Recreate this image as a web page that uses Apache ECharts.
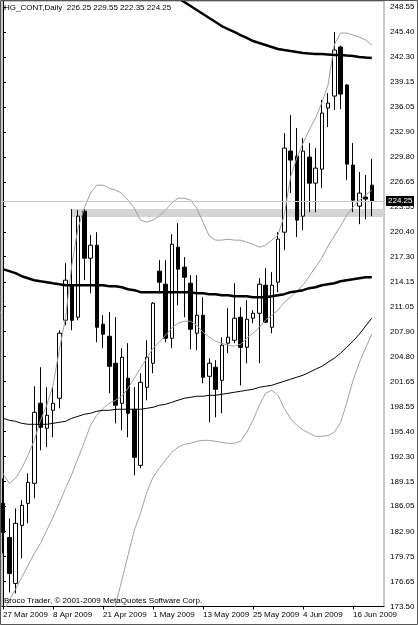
<!DOCTYPE html>
<html><head><meta charset="utf-8">
<script src="https://cdn.jsdelivr.net/npm/echarts@6/dist/echarts.min.js"></script>
<style>html,body{margin:0;padding:0;background:#fff}#c{width:418px;height:625px}</style>
</head><body><div id="c"></div>
<script>
// ---- data ----
const dates = ['27 Mar 2009','30 Mar 2009','31 Mar 2009','1 Apr 2009','2 Apr 2009','3 Apr 2009','6 Apr 2009','7 Apr 2009','8 Apr 2009','9 Apr 2009',
'13 Apr 2009','14 Apr 2009','15 Apr 2009','16 Apr 2009','17 Apr 2009','20 Apr 2009','21 Apr 2009','22 Apr 2009','23 Apr 2009','24 Apr 2009',
'27 Apr 2009','28 Apr 2009','29 Apr 2009','30 Apr 2009','1 May 2009','4 May 2009','5 May 2009','6 May 2009','7 May 2009','8 May 2009',
'11 May 2009','12 May 2009','13 May 2009','14 May 2009','15 May 2009','18 May 2009','19 May 2009','20 May 2009','21 May 2009','22 May 2009',
'25 May 2009','26 May 2009','27 May 2009','28 May 2009','29 May 2009','1 Jun 2009','2 Jun 2009','3 Jun 2009','4 Jun 2009','5 Jun 2009',
'8 Jun 2009','9 Jun 2009','10 Jun 2009','11 Jun 2009','12 Jun 2009','15 Jun 2009','16 Jun 2009','17 Jun 2009','18 Jun 2009','19 Jun 2009'];
const opens = [186.41,182.15,176.39,183.66,186.41,188.92,198.94,195.81,198.06,199.57,209.34,213.72,209.71,222.99,217.10,218.73,208.84,207.33,203.95,198.94,202.07,198.19,191.17,200.94,203.95,215.48,213.85,207.08,218.48,215.98,213.97,207.71,209.96,202.32,203.45,201.82,206.46,206.83,209.71,205.95,209.59,210.21,213.72,208.46,214.10,220.36,230.51,229.88,222.37,229.76,226.50,228.25,235.90,237.40,243.54,238.78,228.76,223.62,224.75,226.25];
const highs = [189.54,184.53,185.78,186.79,190.17,201.07,203.45,200.94,200.94,208.08,216.48,223.24,223.12,223.24,220.00,220.36,209.96,210.34,209.71,205.83,206.46,200.94,202.70,206.83,211.60,216.85,216.85,220.11,221.49,217.23,214.98,214.98,212.22,204.58,204.33,207.21,210.84,213.97,210.97,211.84,210.59,214.60,215.85,215.35,220.36,232.76,235.02,233.39,232.14,231.51,230.89,236.90,237.78,245.42,243.70,238.90,231.51,227.88,227.50,229.55];
const lows = [180.15,175.26,175.14,179.52,183.91,187.04,193.05,193.43,194.68,198.31,208.71,208.08,209.34,214.35,212.72,206.58,205.83,200.19,196.43,195.56,194.68,189.92,190.80,199.31,202.70,212.72,206.58,205.83,211.22,209.71,205.70,205.58,201.44,196.56,197.19,197.69,205.20,206.46,201.19,203.95,208.96,203.95,208.96,207.71,212.85,218.11,225.25,219.74,220.61,222.87,222.87,225.87,233.52,235.65,235.77,226.88,222.87,221.36,221.99,222.35];
const closes = [182.78,177.64,183.91,186.16,189.04,197.81,195.93,197.44,198.94,207.71,214.35,209.34,222.37,217.10,218.73,208.46,207.58,203.57,198.69,204.70,197.69,192.17,201.57,204.70,211.47,214.10,207.08,218.86,215.73,214.72,208.21,209.96,202.20,203.95,200.69,206.21,207.21,209.59,205.95,209.46,210.21,213.85,209.09,213.72,219.49,230.89,229.38,221.87,230.51,226.50,228.38,235.27,236.52,243.16,237.65,228.88,224.37,225.25,224.50,224.25];

const maSlow = [null,null,null,null,null,null,null,null,null,null,null,null,null,null,null,null,null,null,null,null,null,null,null,null,null,null,null,null,
249.68,249.18,248.68,248.17,247.67,247.17,246.67,246.17,245.79,245.42,245.04,244.67,244.29,244.04,243.79,243.54,243.29,243.16,243.04,242.91,242.79,242.72,242.66,242.66,242.60,242.54,242.54,242.47,242.41,242.29,242.22,242.16];
const maMid = [215.73,215.48,215.23,214.85,214.60,214.35,214.22,214.10,213.97,213.85,213.72,213.72,213.72,213.72,213.72,213.72,213.72,213.60,213.60,213.47,213.22,213.10,212.85,212.85,212.85,212.85,212.85,212.85,212.85,212.85,212.85,212.72,212.72,212.60,212.60,212.47,212.47,212.34,212.34,212.34,212.22,212.22,212.22,212.34,212.47,212.60,212.85,212.97,213.10,213.35,213.47,213.72,213.85,213.97,214.22,214.35,214.47,214.60,214.72,214.72];
const maFast = [197.06,196.81,196.68,196.43,196.31,196.31,196.31,196.31,196.43,196.56,196.68,197.06,197.31,197.56,197.69,197.94,198.06,198.06,198.19,198.19,198.19,198.19,198.19,198.31,198.44,198.69,198.81,199.06,199.32,199.57,199.69,199.82,199.82,199.94,199.94,200.07,200.19,200.32,200.44,200.57,200.69,200.94,201.07,201.19,201.45,201.70,201.95,202.20,202.45,202.82,203.20,203.57,204.08,204.58,205.20,205.96,206.71,207.58,208.59,209.59];
const bbUpper = [190.17,188.92,189.54,190.80,192.43,194.30,196.81,198.69,201.19,205.58,209.59,216.23,220.86,223.37,225.25,226.25,226.25,225.87,225.62,225.25,224.37,223.37,221.87,221.62,221.87,222.37,223.12,224.00,224.62,224.62,224.37,223.37,221.62,219.86,219.36,219.36,219.49,219.36,219.36,219.11,218.86,218.48,218.73,219.36,219.99,222.49,227.25,229.63,231.51,233.14,234.64,236.52,238.78,243.79,245.29,245.29,245.04,244.79,244.42,243.79];
const bbMiddle = [172.76,174.26,175.64,177.14,178.64,180.15,181.40,183.03,184.66,186.41,188.29,190.04,192.05,194.05,196.18,197.44,198.31,198.94,199.32,199.82,200.82,202.07,203.32,204.58,205.83,206.58,207.46,208.34,208.96,209.21,209.21,208.71,207.83,207.21,206.71,206.46,206.21,206.08,206.33,207.08,207.71,208.46,209.34,209.96,210.59,211.59,212.22,212.97,213.72,214.85,215.98,217.11,218.61,219.86,221.11,222.49,223.49,224.37,225.00,225.62];
const bbLower = [null,null,null,null,null,null,null,null,null,null,null,null,null,null,null,null,null,
170.50,173.63,176.76,179.90,183.03,185.16,187.79,189.67,190.80,191.80,192.80,193.43,193.80,193.93,194.18,194.30,194.30,194.18,194.05,193.93,193.93,194.18,195.31,196.81,198.69,200.19,200.57,199.94,198.31,197.00,196.20,195.60,195.20,194.80,194.80,194.90,195.30,196.50,199.00,201.80,204.00,205.80,207.60];

const priceTicks = [173.50,176.65,179.75,182.90,186.05,189.15,192.30,195.40,198.55,201.65,204.80,207.90,211.05,214.15,217.30,220.40,223.55,226.65,229.80,232.90,236.05,239.15,242.30,245.40,248.55];
const dateTickIdx = [0,8,16,24,32,40,48,56];
const zoneStartIdx = 11, zoneTop = 223.25, zoneBottom = 222.25;
const titleText = 'HG_CONT,Daily  226.25 229.55 222.35 224.25';
const footerText = 'Broco Trader, \u00a9 2001-2009 MetaQuotes Software Corp.';

// ---- chart ----
const FONT = 'Liberation Sans, Arial, sans-serif';
const X_MIN = -0.16, X_MAX = 60.96;
const chart = echarts.init(document.getElementById('c'));
const candleData = dates.map((d, i) => [i, opens[i], closes[i], lows[i], highs[i]]);
const pair = arr => arr.map((v, i) => [i, v]);
const lineSeries = (arr, color, width) => ({
  type: 'line', data: pair(arr), symbol: 'none', silent: true, z: 3,
  connectNulls: false, lineStyle: { color: color, width: width }
});

chart.setOption({
  animation: false,
  backgroundColor: '#ffffff',
  grid: { left: 2, right: 34, top: 1, bottom: 18.5, show: true, borderColor: '#909090', borderWidth: 1 },
  xAxis: {
    type: 'value', min: X_MIN, max: X_MAX,
    axisLine: { show: true, lineStyle: { color: '#000', width: 1 } },
    axisTick: { show: true, length: 3, customValues: dateTickIdx, lineStyle: { color: '#000' } },
    axisLabel: { customValues: dateTickIdx, formatter: v => dates[Math.round(v)], align: 'left',
                 margin: 4, fontSize: 8, color: '#000', fontFamily: FONT },
    splitLine: { show: false }
  },
  yAxis: {
    type: 'value', position: 'right', min: 173.5, max: 249.30,
    axisLine: { show: true, lineStyle: { color: '#000', width: 1 } },
    axisTick: { show: true, length: 3, customValues: priceTicks, lineStyle: { color: '#000' } },
    axisLabel: { customValues: priceTicks, formatter: v => v.toFixed(2), margin: 6,
                 fontSize: 8, color: '#000', fontFamily: FONT },
    splitLine: { show: false }
  },
  series: [
    {
      type: 'candlestick', data: candleData, encode: { x: 0, y: [1, 2, 3, 4] },
      barWidth: 4, silent: true, z: 2,
      itemStyle: { color: '#ffffff', color0: '#000000', borderColor: '#000000', borderColor0: '#000000', borderWidth: 1 },
      markArea: { silent: true, itemStyle: { color: '#d4d4d4' },
        data: [[{ xAxis: zoneStartIdx, yAxis: zoneTop }, { xAxis: X_MAX, yAxis: zoneBottom }]] },
      markLine: { silent: true, symbol: ['none', 'none'], label: { show: false },
        lineStyle: { color: '#c8c8c8', type: 'solid', width: 1 },
        data: [{ yAxis: closes[closes.length - 1] }] }
    },
    lineSeries(bbUpper, '#a0a0a0', 1),
    lineSeries(bbMiddle, '#a0a0a0', 1),
    lineSeries(bbLower, '#a0a0a0', 1),
    lineSeries(maFast, '#000', 1),
    lineSeries(maMid, '#000', 2.5),
    lineSeries(maSlow, '#000', 2.5)
  ]
});

const lastClose = closes[closes.length - 1];
const yp = chart.convertToPixel({ yAxisIndex: 0 }, lastClose);
chart.setOption({
  graphic: [
    { type: 'rect', z: 100, silent: true, shape: { x: 0.5, y: 0.5, width: 417, height: 624 },
      style: { fill: 'none', stroke: '#555', lineWidth: 1 } },
    { type: 'text', z: 100, silent: true, style: { text: titleText, x: 4, y: 8, fill: '#000',
      font: '8px ' + FONT, textVerticalAlign: 'middle' } },
    { type: 'text', z: 100, silent: true, style: { text: footerText, x: 4, y: 601, fill: '#000',
      font: '8px ' + FONT, textVerticalAlign: 'middle' } },
    { type: 'rect', z: 100, silent: true, shape: { x: 386, y: Math.round(yp) - 5, width: 28, height: 10 },
      style: { fill: '#000' } },
    { type: 'text', z: 101, silent: true, style: { text: lastClose.toFixed(2), x: 388, y: Math.round(yp), fill: '#fff',
      font: '8px ' + FONT, textVerticalAlign: 'middle' } }
  ]
});
</script></body></html>
